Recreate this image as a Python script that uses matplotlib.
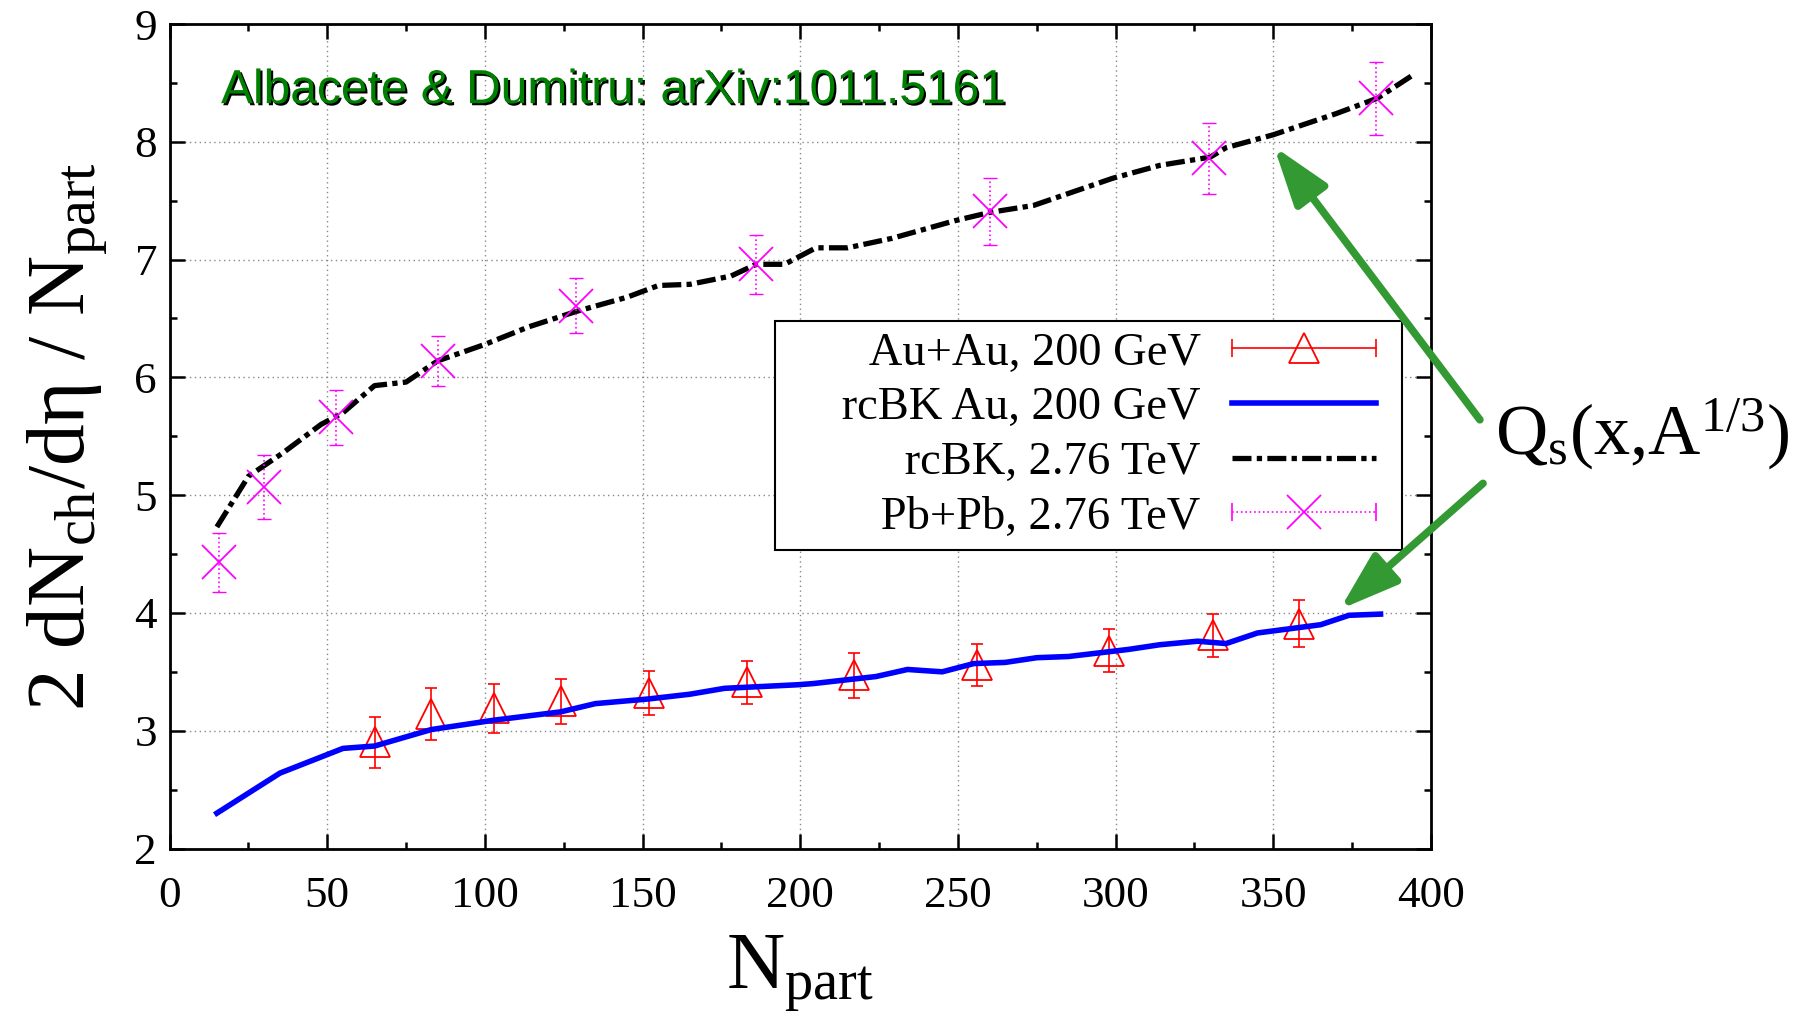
import matplotlib
matplotlib.use("Agg")
import matplotlib.pyplot as plt
import matplotlib.patheffects as pe
from matplotlib.legend_handler import HandlerBase
from matplotlib.lines import Line2D
from matplotlib.ticker import MultipleLocator

# Au+Au 200 GeV data (PHOBOS-like points)
au_npart = [65, 83, 103, 124, 152, 183, 217, 256, 298, 331, 358]
au_y = [2.90, 3.14, 3.19, 3.25, 3.32, 3.41, 3.47, 3.56, 3.68, 3.81, 3.91]
au_err = [0.22, 0.22, 0.21, 0.19, 0.19, 0.18, 0.19, 0.18, 0.18, 0.18, 0.20]

# rcBK prediction for Au, 200 GeV
bk_au_npart = [15, 35, 55, 65, 83, 103, 124, 135, 152, 165, 176, 199, 204, 224,
               234, 245, 255, 265, 275, 285, 304, 314, 326, 335, 345, 365, 374, 384]
bk_au_y = [2.30, 2.64, 2.85, 2.87, 3.01, 3.09, 3.16, 3.23, 3.27, 3.31, 3.36, 3.39,
           3.40, 3.46, 3.52, 3.50, 3.57, 3.58, 3.62, 3.63, 3.69, 3.73, 3.76, 3.74,
           3.83, 3.90, 3.98, 3.99]

# rcBK prediction for 2.76 TeV
bk_lhc_npart = [15, 25, 36, 48, 55, 65, 75, 85, 100, 114, 129, 145, 155, 165, 178,
                186, 195, 205, 215, 229, 249, 260, 274, 299, 314, 330, 335, 350, 370, 383, 395]
bk_lhc_y = [4.73, 5.16, 5.36, 5.60, 5.70, 5.93, 5.96, 6.14, 6.28, 6.43, 6.56, 6.68,
            6.78, 6.79, 6.86, 6.96, 6.96, 7.10, 7.10, 7.18, 7.33, 7.40, 7.46, 7.69,
            7.80, 7.87, 7.95, 8.06, 8.24, 8.37, 8.58]

# Pb+Pb 2.76 TeV data (ALICE)
pb_npart = [15.8, 30.1, 52.8, 85.1, 129, 186, 260.3, 329.5, 382.5]
pb_y = [4.43, 5.07, 5.66, 6.14, 6.61, 6.96, 7.41, 7.86, 8.37]
pb_err = [0.25, 0.27, 0.23, 0.21, 0.235, 0.25, 0.285, 0.30, 0.31]

labels = ["Au+Au, 200 GeV", "rcBK Au, 200 GeV", "rcBK, 2.76 TeV", "Pb+Pb, 2.76 TeV"]

plt.rcParams["font.family"] = ["Liberation Serif", "DejaVu Serif"]
plt.rcParams["mathtext.fontset"] = "custom"
plt.rcParams["mathtext.rm"] = "Liberation Serif"
plt.rcParams["mathtext.it"] = "Liberation Serif:italic"
plt.rcParams["mathtext.bf"] = "Liberation Serif:bold"

DASHDOT = (0, (3.6, 1.0, 1.0, 1.0))


class GnuplotKey(HandlerBase):
    """key sample drawn like gnuplot: line on the right, marker in the middle"""

    def __init__(self, color, ls="-", lw=1.2, marker=None, ms=0, caps=0, frac=0.905):
        super().__init__()
        self.color, self.ls, self.lw = color, ls, lw
        self.marker, self.ms, self.caps, self.frac = marker, ms, caps, frac

    def create_artists(self, legend, orig_handle, xdescent, ydescent, width, height, fontsize, trans):
        x0 = -xdescent
        x1 = x0 + width * self.frac
        y = height / 2 - ydescent
        arts = [Line2D([x0, x1], [y, y], color=self.color, ls=self.ls, lw=self.lw, transform=trans)]
        if self.caps:
            arts.append(Line2D([x0, x1], [y, y], ls="none", marker="|", ms=self.caps,
                               mew=1.2, color=self.color, transform=trans))
        if self.marker:
            arts.append(Line2D([(x0 + x1) / 2], [y], ls="none", marker=self.marker, ms=self.ms,
                               mfc="none", mec=self.color, mew=1.3, transform=trans))
        return arts


fig = plt.figure(figsize=(18, 10.18), dpi=100)
ax = fig.add_axes([0.0942, 0.1665, 0.7008, 0.8099])

ax.errorbar(au_npart, au_y, yerr=au_err, fmt="none", ecolor="red", elinewidth=1.2,
            capsize=4.5, capthick=1.2, zorder=3)
ax.plot(au_npart, au_y, ls="none", marker="^", ms=22, mfc="none", mec="red", mew=1.3, zorder=3)
ax.plot(bk_au_npart, bk_au_y, color="blue", lw=4, zorder=3)
ax.plot(bk_lhc_npart, bk_lhc_y, color="black", lw=3.8, ls=DASHDOT, zorder=3)
eb = ax.errorbar(pb_npart, pb_y, yerr=pb_err, fmt="none", ecolor="magenta", elinewidth=1.2,
                 capsize=4.7, capthick=1.0, zorder=4)
eb[2][0].set_linestyle(":")
ax.plot(pb_npart, pb_y, ls="none", marker="x", ms=24, mec="magenta", mew=1.3, zorder=4)

ax.set_xlim(0, 400)
ax.set_ylim(2, 9)
ax.xaxis.set_major_locator(MultipleLocator(50))
ax.xaxis.set_minor_locator(MultipleLocator(25))
ax.yaxis.set_major_locator(MultipleLocator(1))
ax.yaxis.set_minor_locator(MultipleLocator(0.5))
ax.tick_params(which="both", direction="in", top=True, right=True, width=1.8, labelsize=32.5)
ax.tick_params(which="major", length=11)
ax.tick_params(which="minor", length=5)
ax.tick_params(axis="x", pad=20)
ax.tick_params(axis="y", pad=9)
for s in ax.spines.values():
    s.set_linewidth(2)
ax.grid(True, which="major", color="#888888", lw=1, ls=(0, (1, 2.5)), zorder=0)

ax.set_xlabel("N$_\\mathrm{part}$", fontsize=58)
ax.xaxis.set_label_coords(0.5, -0.104)
ax.set_ylabel("2 dN$_\\mathrm{ch}$/dη / N$_\\mathrm{part}$", fontsize=60)
ax.yaxis.set_label_coords(-0.048, 0.5)

ax.text(0.0408, 0.904, "Albacete & Dumitru: arXiv:1011.5161", transform=ax.transAxes,
        family="Liberation Sans", fontsize=34.5, color="#008000", va="baseline",
        path_effects=[pe.withSimplePatchShadow(offset=(1.5, -1.5), shadow_rgbFace="black", alpha=1.0)])

proxies = [Line2D([], []) for _ in labels]
hmap = {
    proxies[0]: GnuplotKey("red", marker="^", ms=22, caps=13),
    proxies[1]: GnuplotKey("blue", lw=4),
    proxies[2]: GnuplotKey("black", ls=DASHDOT, lw=3.8),
    proxies[3]: GnuplotKey("magenta", ls=":", marker="x", ms=24, caps=13),
}
pad_labels = ["    \u2009" + t for t in labels]
leg = ax.legend(proxies, pad_labels, handler_map=hmap, loc="upper right",
                bbox_to_anchor=(1402 / 1800, 1 - 321 / 1018), bbox_transform=fig.transFigure,
                markerfirst=False, fontsize=33.5, handlelength=3.42, handletextpad=0.67,
                borderpad=0.24, labelspacing=0.26, borderaxespad=0, fancybox=False,
                framealpha=1, edgecolor="black")
leg.get_frame().set_linewidth(1.5)
leg.set_zorder(6)

arrow = dict(arrowstyle="-|>,head_length=1.8,head_width=0.6", lw=5.5, color="#339933",
             mutation_scale=20, shrinkA=0, shrinkB=0)
ax.annotate("", xy=(350.2, 7.96), xytext=(415.5, 5.64), arrowprops=arrow,
            annotation_clip=False, zorder=7)
ax.annotate("", xy=(371.1, 4.03), xytext=(416.5, 5.10), arrowprops=arrow,
            annotation_clip=False, zorder=7)

fig.text(1495 / 1800, 1 - 455 / 1018, "Q$_\\mathrm{s}$(x,A$^{1/3}$)", fontsize=52,
         ha="left", va="baseline")

fig.savefig("out.png", dpi=100)
